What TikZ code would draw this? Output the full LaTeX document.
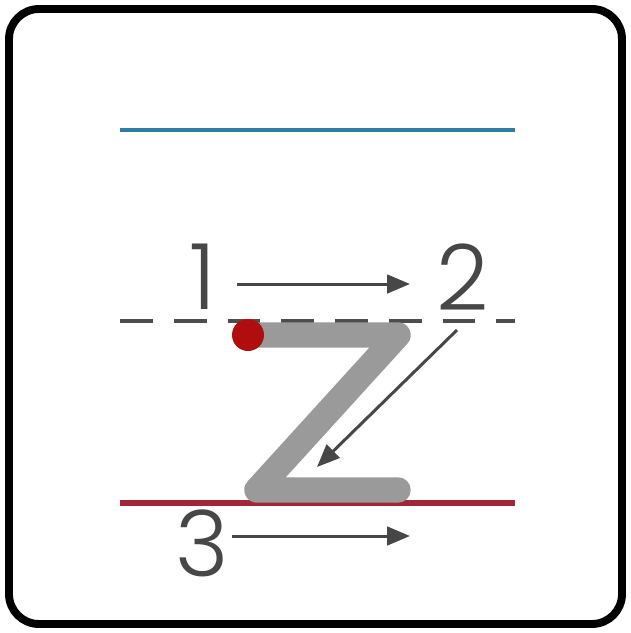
\documentclass[tikz,border=0pt]{standalone}
\usepackage{fontspec}
\usepackage{tikz}
\usetikzlibrary{arrows.meta}
\newfontfamily\numfont{Poppins Light}
\definecolor{cTop}{HTML}{2C7FA3}
\definecolor{cMid}{HTML}{4D4D4D}
\definecolor{cBase}{HTML}{A32638}
\definecolor{cStroke}{HTML}{9A9A9A}
\definecolor{cDot}{HTML}{B00E0E}
\definecolor{cArr}{HTML}{474747}
\tikzset{
  frame/.style  ={draw=black, line width=4.5pt, rounded corners=0.6cm},
  guide/.style  ={line width=2.8pt},
  zline/.style  ={draw=cStroke, line width=14.5pt, line cap=round, line join=round},
  num/.style    ={font=\numfont\fontsize{52}{52}\selectfont, text=cArr, inner sep=0pt},
  fl/.style     ={-{Triangle[length=13pt,width=10.5pt]}, draw=cArr, line width=1.7pt},
}
\begin{document}
\begin{tikzpicture}[x=0.02cm,y=-0.02cm]
  \useasboundingbox (0,0) rectangle (630,633);
  \draw[frame] (9,9) rectangle (622,624);
  % writing lines
  \draw[guide, draw=cTop] (120,130) -- (515,130);
  \draw[guide, draw=cMid, dash pattern=on 18.7pt off 11.9pt] (120,321) -- (515,321);
  \draw[guide, draw=cBase, line width=3.4pt] (120,503) -- (515,503);
  % letter z
  \draw[zline] (248,335) -- (398,335) -- (257,490) -- (398,490);
  \fill[cDot] (248,335) circle (16);
  % stroke order
  \node[num] (n1) at (203,277) {1};
  \node[num] (n2) at (463,277) {2};
  \node[num] (n3) at (202,543) {3};
  \coordinate (a1s) at (237,284);
  \coordinate (a1e) at (410,284);
  \coordinate (a2s) at (457,330);
  \coordinate (a2e) at (317,467);
  \coordinate (a3s) at (232,536);
  \coordinate (a3e) at (410,536);
  \draw[fl] (a1s) -- (a1e);
  \draw[fl] (a2s) -- (a2e);
  \draw[fl] (a3s) -- (a3e);
\end{tikzpicture}
\end{document}
